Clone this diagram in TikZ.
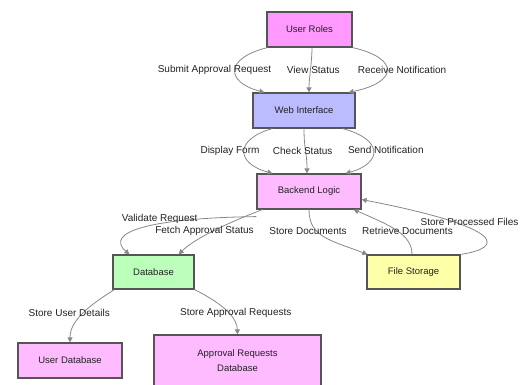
\documentclass[tikz,border=0pt]{standalone}
\usepackage{fontspec}
\setmainfont{Liberation Sans}
\usetikzlibrary{arrows.meta}
\definecolor{edgegray}{HTML}{888888}
\definecolor{boxline}{HTML}{555555}
\definecolor{txt}{HTML}{222222}
\definecolor{cRoles}{HTML}{FF99FF}
\definecolor{cWeb}{HTML}{BBBBFF}
\definecolor{cPink}{HTML}{FFBBFF}
\definecolor{cGreen}{HTML}{BBFFBB}
\definecolor{cYellow}{HTML}{FFFFAA}
\tikzset{
  box/.style={draw=boxline, line width=1.2pt, rectangle, minimum height=35pt, inner sep=0pt, font=\fontsize{9.5}{12}\selectfont, text=txt, align=center},
  conn/.style={draw=edgegray, line width=0.8pt, -{Triangle[length=5pt,width=5pt]}},
  lbl/.style={font=\fontsize{10}{12}\selectfont, inner sep=0pt, text=txt}
}
\begin{document}
\begin{tikzpicture}[x=1pt,y=-1pt]
\path[use as bounding box, clip] (0,0) rectangle (520,385);
% nodes
\node[box, fill=cRoles, minimum width=85pt] (ur) at (309.5,29.5) {User Roles};
\node[box, fill=cWeb, minimum width=102pt] (wi) at (304,110.5) {Web Interface};
\node[box, fill=cPink, minimum width=104pt] (bl) at (309,191.5) {Backend Logic};
\node[box, fill=cGreen, minimum width=81pt, minimum height=34pt] (db) at (153.5,272) {Database};
\node[box, fill=cYellow, minimum width=93pt, minimum height=34pt] (fs) at (413.5,272) {File Storage};
\node[box, fill=cPink, minimum width=104pt] (udb) at (70,360.5) {User Database};
\node[box, fill=cPink, minimum width=167pt, minimum height=52pt] (adb) at (237.5,361) {Approval Requests\\[3pt]Database};
% User Roles -> Web Interface
\draw[conn] ([xshift=1pt]ur.south west) .. controls (225,58) and (225,82) .. ([xshift=12pt]wi.north west);
\draw[conn] ([xshift=2.5pt]ur.south) .. controls (312,62) and (309,78) .. ([xshift=5pt]wi.north);
\draw[conn] (ur.south east) .. controls (399,58) and (399,82) .. ([xshift=-7pt]wi.north east);
\node[lbl] (l1) at (214.5,70) {Submit Approval Request};
\node[lbl] (l2) at (313.3,70) {View Status};
\node[lbl] (l3) at (402,70) {Receive Notification};
% Web Interface -> Backend Logic
\draw[conn] ([xshift=20pt]wi.south west) .. controls (235,139) and (235,163) .. ([xshift=16pt]bl.north west);
\draw[conn] (wi.south) .. controls (304,150) and (307,152) .. ([xshift=-2pt]bl.north);
\draw[conn] ([xshift=-13pt]wi.south east) .. controls (383,139) and (383,163) .. ([xshift=-16pt]bl.north east);
\node[lbl] (l4) at (230,151) {Display Form};
\node[lbl] (l5) at (302.7,151) {Check Status};
\node[lbl] (l6) at (385.8,150) {Send Notification};
% Backend Logic -> Database / File Storage
\draw[conn] ([yshift=-7pt]bl.south west) .. controls (150,218) and (104,232) .. ([xshift=17pt]db.north west);
\draw[conn] ([xshift=6pt]bl.south west) .. controls (230,222) and (195,238) .. ([xshift=-16pt]db.north east);
\draw[conn] (bl.south) .. controls (309,237) and (330,240) .. ([xshift=1pt]fs.north west);
\draw[conn] ([xshift=-1.5pt]fs.north) .. controls (412,235) and (392,226) .. ([xshift=-8pt]bl.south east);
\draw[conn] (fs.north east) .. controls (504,248) and (508,228) .. ([yshift=-8pt]bl.east);
\node[lbl] (l7) at (159.7,219.3) {Validate Request};
\node[lbl] (l8) at (204.5,231.3) {Fetch Approval Status};
\node[lbl] (l9) at (308,231) {Store Documents};
\node[lbl] (l10) at (407.5,231) {Retrieve Documents};
\node[lbl] (l11) at (469.5,221.7) {Store Processed Files};
% Database -> stores
\draw[conn] ([xshift=2pt]db.south west) .. controls (90,305) and (70,320) .. (udb.north);
\draw[conn] (db.south east) .. controls (225,305) and (237,318) .. (adb.north);
\node[lbl] (l12) at (69.2,312.7) {Store User Details};
\node[lbl] (l13) at (235.8,312.7) {Store Approval Requests};
\end{tikzpicture}
\end{document}
